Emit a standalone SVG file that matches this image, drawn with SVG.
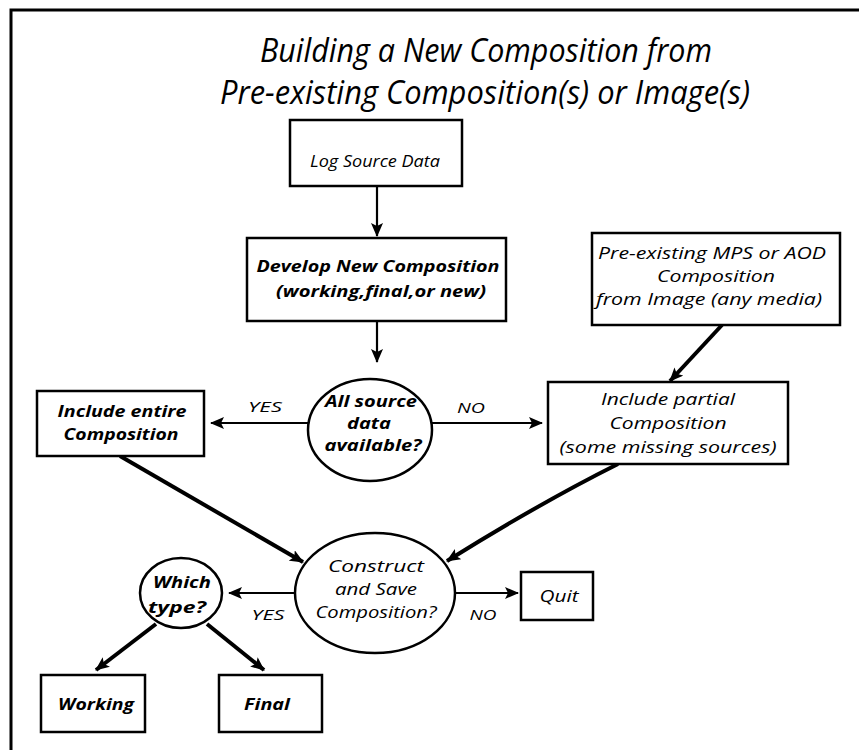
<svg xmlns="http://www.w3.org/2000/svg" width="859" height="750" viewBox="0 0 859 750">
<defs>
<marker id="ah" markerUnits="userSpaceOnUse" markerWidth="14" markerHeight="12" refX="13" refY="6" orient="auto">
<path d="M0,0 L14,6 L0,12 L3,6 Z" fill="#000"/>
</marker>
<style>
text{font-family:"Open Sans","Noto Sans","DejaVu Sans",sans-serif;font-style:italic;fill:#000;text-anchor:middle}
.t{font-size:33px}
.n{font-size:16px}
.b{font-size:16px;font-weight:bold}
.lbl{font-size:15px}
.box{fill:#fff;stroke:#000;stroke-width:2.5}
.c{fill:#fff;stroke:#000;stroke-width:2.5}
.thin{fill:none;stroke:#000;stroke-width:2.2}
.thick{fill:none;stroke:#000;stroke-width:4}
</style>
</defs>
<rect width="859" height="750" fill="#fff"/>
<path d="M11,750 V10 H859" fill="none" stroke="#000" stroke-width="3"/>
<g id="title">
<text class="t" x="486" y="62" textLength="452" lengthAdjust="spacingAndGlyphs">Building a New Composition from</text>
<text class="t" x="485" y="104" textLength="530" lengthAdjust="spacingAndGlyphs">Pre-existing Composition(s) or Image(s)</text>
</g>
<g id="connectors">
<line class="thin" x1="377" y1="187" x2="377" y2="236" marker-end="url(#ah)"/>
<line class="thin" x1="377" y1="321" x2="377" y2="362" marker-end="url(#ah)"/>
<line class="thin" x1="308" y1="423" x2="211" y2="423" marker-end="url(#ah)"/>
<line class="thin" x1="432" y1="423" x2="542" y2="423" marker-end="url(#ah)"/>
<line class="thick" x1="722" y1="325" x2="670" y2="381" marker-end="url(#ah)"/>
<line class="thick" x1="120" y1="456" x2="303" y2="562" marker-end="url(#ah)"/>
<path class="thick" d="M618,464 Q540,503 447,561" marker-end="url(#ah)"/>
<line class="thin" x1="295" y1="593" x2="229" y2="593" marker-end="url(#ah)"/>
<line class="thin" x1="455" y1="593" x2="518" y2="593" marker-end="url(#ah)"/>
<line class="thick" x1="156" y1="624" x2="96" y2="670" marker-end="url(#ah)"/>
<line class="thick" x1="207" y1="624" x2="264" y2="670" marker-end="url(#ah)"/>
<text class="lbl" x="265" y="412" textLength="34" lengthAdjust="spacingAndGlyphs">YES</text>
<text class="lbl" x="471" y="413" textLength="28" lengthAdjust="spacingAndGlyphs">NO</text>
<text class="lbl" x="268" y="620" textLength="33" lengthAdjust="spacingAndGlyphs">YES</text>
<text class="lbl" x="483" y="620" textLength="27" lengthAdjust="spacingAndGlyphs">NO</text>
</g>
<g id="log">
<rect class="box" x="290" y="120" width="172" height="66"/>
<text class="n" x="375" y="167" textLength="130" lengthAdjust="spacingAndGlyphs">Log Source Data</text>
</g>
<g id="develop">
<rect class="box" x="247" y="238" width="259" height="83"/>
<text class="b" x="378" y="272" textLength="243" lengthAdjust="spacingAndGlyphs">Develop New Composition</text>
<text class="b" x="381" y="297" textLength="210" lengthAdjust="spacingAndGlyphs">(working,final,or new)</text>
</g>
<g id="preexisting">
<rect class="box" x="592" y="233" width="248" height="92"/>
<text class="n" x="712" y="259" textLength="228" lengthAdjust="spacingAndGlyphs">Pre-existing MPS or AOD</text>
<text class="n" x="716" y="282" textLength="118" lengthAdjust="spacingAndGlyphs">Composition</text>
<text class="n" x="709" y="305" textLength="226" lengthAdjust="spacingAndGlyphs">from Image (any media)</text>
</g>
<g id="allsource">
<ellipse class="c" cx="370" cy="430" rx="62" ry="51"/>
<text class="b" x="371" y="407" textLength="92" lengthAdjust="spacingAndGlyphs">All source</text>
<text class="b" x="369" y="429" textLength="44" lengthAdjust="spacingAndGlyphs">data</text>
<text class="b" x="373" y="451" textLength="97" lengthAdjust="spacingAndGlyphs">available?</text>
</g>
<g id="include">
<rect class="box" x="37" y="391" width="167" height="65"/>
<text class="b" x="122" y="417" textLength="129" lengthAdjust="spacingAndGlyphs">Include entire</text>
<text class="b" x="121" y="440" textLength="115" lengthAdjust="spacingAndGlyphs">Composition</text>
</g>
<g id="partial">
<rect class="box" x="548" y="382" width="240" height="82"/>
<text class="n" x="668" y="405" textLength="134" lengthAdjust="spacingAndGlyphs">Include partial</text>
<text class="n" x="668" y="429" textLength="117" lengthAdjust="spacingAndGlyphs">Composition</text>
<text class="n" x="668" y="453" textLength="217" lengthAdjust="spacingAndGlyphs">(some missing sources)</text>
</g>
<g id="construct">
<ellipse class="c" cx="375" cy="593" rx="80" ry="60"/>
<text class="n" x="376" y="572" textLength="96" lengthAdjust="spacingAndGlyphs">Construct</text>
<text class="n" x="376" y="595" textLength="82" lengthAdjust="spacingAndGlyphs">and Save</text>
<text class="n" x="376" y="618" textLength="121" lengthAdjust="spacingAndGlyphs">Composition?</text>
</g>
<g id="quit">
<rect class="box" x="521" y="572" width="72" height="48"/>
<text class="n" x="559" y="602" textLength="39" lengthAdjust="spacingAndGlyphs">Quit</text>
</g>
<g id="which">
<ellipse class="c" cx="181" cy="593" rx="41" ry="35"/>
<text class="b" x="182" y="588" textLength="58" lengthAdjust="spacingAndGlyphs">Which</text>
<text class="b" x="177" y="613" textLength="58" lengthAdjust="spacingAndGlyphs">type?</text>
</g>
<g id="working">
<rect class="box" x="41" y="675" width="104" height="57"/>
<text class="b" x="96" y="710" textLength="76" lengthAdjust="spacingAndGlyphs">Working</text>
</g>
<g id="final">
<rect class="box" x="219" y="675" width="103" height="57"/>
<text class="b" x="267" y="710" textLength="46" lengthAdjust="spacingAndGlyphs">Final</text>
</g>
</svg>
